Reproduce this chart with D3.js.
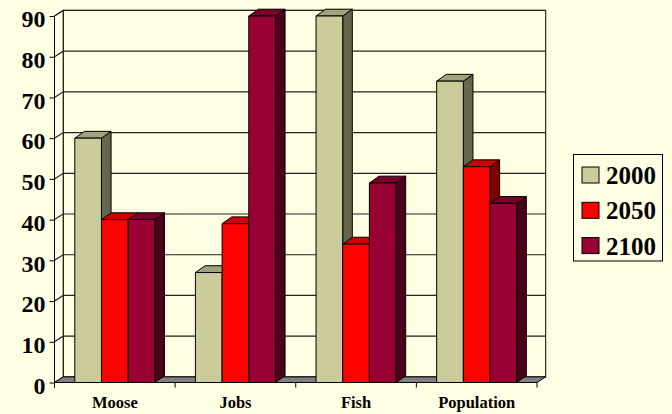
<!DOCTYPE html>
<html>
<head>
<meta charset="utf-8">
<script src="https://cdn.jsdelivr.net/npm/d3@7"></script>
<style>
  html, body { margin: 0; padding: 0; background: #FFFFE3; }
  svg { display: block; }
  text { font-family: "Liberation Serif", "Times New Roman", serif; font-weight: bold; fill: #000; }
</style>
</head>
<body>
<svg id="chart" width="672" height="414"></svg>
<script>
// Data
const categories = ["Moose", "Jobs", "Fish", "Population"];
const years = ["2000", "2050", "2100"];
const values2000 = [60, 27, 90, 74];
const values2050 = [40, 39, 34, 53];
const values2100 = [40, 90, 49, 44];
const yTicks = [0, 10, 20, 30, 40, 50, 60, 70, 80, 90];

const series = [values2000, values2050, values2100];

// Face colours per series: front, top, side
const faces = [
  { front: "#CCCC9A", top: "#A2A27C", side: "#66664C" },
  { front: "#FF0000", top: "#CC0000", side: "#800000" },
  { front: "#990033", top: "#7A0029", side: "#4C001A" }
];

const svg = d3.select("#chart");
const W = 672, H = 414;
svg.append("rect").attr("width", W).attr("height", H).attr("fill", "#FFFFE3");

// Front plane of the plot
const x0 = 54.5, x1 = 537, yBase = 382.5, yTop = 16;
// Depth offsets for walls and bars (oblique projection)
const wdx = 8.7, wdy = -5.6;
const bdx = 9.6, bdy = -6.8;

const y = d3.scaleLinear().domain([0, 90]).range([yBase, yTop]);
const x = d3.scaleBand().domain(categories).range([x0, x1]);
const xs = d3.scaleBand().domain(years).range([0, x.bandwidth()])
  .paddingInner(0).paddingOuter(0.76);

const walls = svg.append("g");

// Back wall
walls.append("rect")
  .attr("x", x0 + wdx).attr("y", y(90) + wdy)
  .attr("width", x1 - x0).attr("height", y(0) - y(90))
  .attr("fill", "#FFFFE3").attr("stroke", "#000").attr("stroke-width", 1);

// Side wall
walls.append("path")
  .attr("d", `M${x0},${y(0)}L${x0},${y(90)}L${x0 + wdx},${y(90) + wdy}L${x0 + wdx},${y(0) + wdy}Z`)
  .attr("fill", "#FFFFE3").attr("stroke", "#000").attr("stroke-width", 1);

// Gridlines on back wall and side wall
const grid = walls.append("g").attr("stroke", "#222").attr("stroke-width", 1.2).attr("fill", "none");
grid.selectAll("path.g").data(yTicks.filter(d => d > 0)).join("path")
  .attr("class", "g")
  .attr("d", d => `M${x0},${y(d)}L${x0 + wdx},${y(d) + wdy}L${x1 + wdx},${y(d) + wdy}`);

// Floor
walls.append("path")
  .attr("d", `M${x0},${y(0)}L${x1},${y(0)}L${x1 + wdx},${y(0) + wdy}L${x0 + wdx},${y(0) + wdy}Z`)
  .attr("fill", "#808080").attr("stroke", "#000").attr("stroke-width", 1);

// Bars: each drawn as front, top and side faces
const barsG = svg.append("g").attr("stroke", "#000").attr("stroke-width", 1).attr("stroke-linejoin", "round");
categories.forEach((cat, ci) => {
  years.forEach((yr, si) => {
    const v = series[si][ci];
    const left = x(cat) + xs(yr);
    const right = left + xs.bandwidth();
    const top = y(v), bot = y(0);
    const f = faces[si];
    const g = barsG.append("g");
    g.append("path")
      .attr("d", `M${right},${bot}L${right},${top}L${right + bdx},${top + bdy}L${right + bdx},${bot + bdy}Z`)
      .attr("fill", f.side);
    g.append("path")
      .attr("d", `M${left},${top}L${right},${top}L${right + bdx},${top + bdy}L${left + bdx},${top + bdy}Z`)
      .attr("fill", f.top);
    g.append("rect")
      .attr("x", left).attr("y", top)
      .attr("width", right - left).attr("height", bot - top)
      .attr("fill", f.front);
  });
});

// Y axis
const yAxis = svg.append("g")
  .attr("transform", `translate(${x0},0)`)
  .call(d3.axisLeft(y).tickValues(yTicks).tickSize(5).tickSizeOuter(0).tickPadding(4).tickFormat(d3.format("d")));
yAxis.select(".domain").remove();
yAxis.selectAll(".tick line").attr("stroke", "#000");
yAxis.selectAll("text")
  .attr("dy", "0.45em")
  .style("font-size", "24px")
  .style("font-family", "'Liberation Serif', 'Times New Roman', serif")
  .style("font-weight", "bold");
svg.append("line")
  .attr("x1", x0).attr("x2", x0).attr("y1", y(90)).attr("y2", y(0) + 5)
  .attr("stroke", "#000").attr("stroke-width", 1);

// X axis: labels centred, ticks at category boundaries
const xAxis = svg.append("g")
  .attr("transform", `translate(0,${y(0)})`)
  .call(d3.axisBottom(x).tickSize(0).tickPadding(14));
xAxis.select(".domain").remove();
xAxis.selectAll("text")
  .style("font-size", "16.5px")
  .style("font-family", "'Liberation Serif', 'Times New Roman', serif")
  .style("font-weight", "bold");
const bounds = categories.map(c => x(c)).concat([x1]);
svg.append("g").selectAll("line").data(bounds).join("line")
  .attr("x1", d => d).attr("x2", d => d)
  .attr("y1", y(0)).attr("y2", y(0) + 5)
  .attr("stroke", "#000").attr("stroke-width", 1);

// Legend
const legend = svg.append("g");
legend.append("rect")
  .attr("x", 573.5).attr("y", 154.5).attr("width", 89).attr("height", 106.5)
  .attr("fill", "#FFFFE3").attr("stroke", "#000").attr("stroke-width", 1);
const items = legend.selectAll("g.item").data(years).join("g")
  .attr("class", "item")
  .attr("transform", (d, i) => `translate(582,${167 + i * 35.3})`);
items.append("rect")
  .attr("width", 17).attr("height", 16)
  .attr("fill", (d, i) => faces[i].front)
  .attr("stroke", "#000").attr("stroke-width", 1);
items.append("text")
  .attr("x", 24).attr("y", 17)
  .style("font-size", "25px")
  .text(d => d);
</script>
</body>
</html>
